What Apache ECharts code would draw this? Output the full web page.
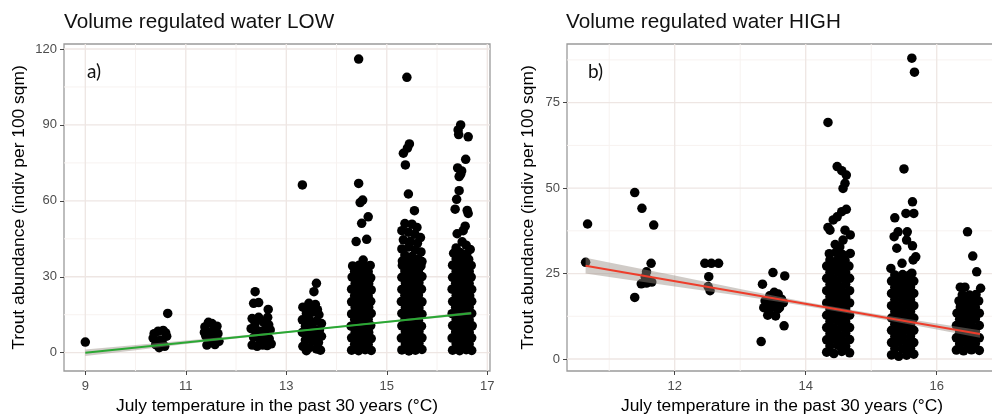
<!DOCTYPE html>
<html>
<head>
<meta charset="utf-8">
<script src="https://cdn.jsdelivr.net/npm/echarts@6/dist/echarts.min.js"></script>
<style>html,body{margin:0;padding:0;background:#fff;}#c{width:992px;height:414px;}</style>
</head>
<body>
<div id="c"></div>
<script>
// ---------- Panel a) : Volume regulated water LOW ----------
const lowXTicks = [9, 11, 13, 15, 17];
const lowXMinor = [10, 12, 14, 16];
const lowYTicks = [0, 30, 60, 90, 120];
const lowYMinor = [15, 45, 75, 105];

const lowT9 = [[9.00, 4.2]];
const lowT105 = [[10.35,5.8],[10.45,8.5],[10.55,8.8],[10.62,6.5],[10.40,3.2],[10.50,5.0],[10.58,2.5],[10.47,2.0],[10.64,15.5],[10.37,7.5],[10.53,4.0],[10.60,7.8]];
const lowT115 = [[11.38,10.2],[11.45,12.0],[11.52,11.5],[11.60,9.5],[11.40,6.5],[11.48,4.0],[11.56,6.0],[11.64,7.5],[11.66,4.5],[11.42,3.0],[11.58,3.2],[11.50,8.2],[11.37,8.0],[11.62,10.5],[11.44,5.5]];
const lowT125 = [[12.38,24.1],[12.35,19.5],[12.45,19.8],[12.64,17.1],[12.32,13.5],[12.45,14.0],[12.55,12.0],[12.65,11.0],[12.30,9.5],[12.40,9.0],[12.50,8.5],[12.60,9.5],[12.68,9.0],[12.35,6.0],[12.47,5.5],[12.57,6.0],[12.66,5.5],[12.32,3.0],[12.42,2.5],[12.53,3.0],[12.62,2.8],[12.70,3.5],[12.38,11.5],[12.63,14.0]];
const lowT135 = [[13.32,66.3],[13.60,27.4],[13.55,24.1],[13.33,18.0],[13.45,19.5],[13.58,19.0],[13.40,15.5],[13.52,16.0],[13.65,15.0],[13.32,13.0],[13.46,13.0],[13.60,12.5],[13.70,11.5],[13.38,10.5],[13.52,10.0],[13.66,9.0],[13.32,8.0],[13.45,7.5],[13.58,7.0],[13.70,6.5],[13.38,5.0],[13.52,4.5],[13.64,4.0],[13.33,2.5],[13.46,2.0],[13.60,1.5],[13.68,1.0],[13.40,0.8],[13.48,17.5],[13.62,17.0]];
const lowT145 = [[14.44,116.0],[14.44,66.9],[14.47,59.3],[14.52,60.3],[14.63,53.7],[14.50,51.1],[14.60,44.8],[14.39,43.9],[14.53,36.6],
 [14.30,1.0],[14.44,0.8],[14.57,1.2],[14.69,0.9],
 [14.36,3.3],[14.50,3.5],[14.63,3.2],
 [14.30,5.9],[14.43,5.7],[14.57,6.0],[14.69,5.6],
 [14.37,8.1],[14.51,8.4],[14.64,8.0],
 [14.29,10.5],[14.44,10.8],[14.56,10.4],[14.68,10.7],
 [14.36,13.1],[14.50,12.9],[14.63,13.2],
 [14.30,15.3],[14.43,15.6],[14.57,15.2],[14.69,15.5],
 [14.37,17.9],[14.50,17.6],[14.64,18.0],
 [14.30,20.1],[14.44,20.4],[14.57,20.0],[14.68,20.3],
 [14.36,22.5],[14.51,22.8],[14.63,22.4],
 [14.30,25.1],[14.43,24.9],[14.57,25.2],[14.69,24.8],
 [14.37,27.3],[14.50,27.6],[14.64,27.2],
 [14.31,29.9],[14.44,29.7],[14.57,30.0],[14.68,29.6],
 [14.36,32.1],[14.50,32.4],[14.63,32.0],
 [14.32,34.3],[14.45,34.6],[14.58,34.2],[14.67,34.5]];
const lowT155 = [[15.40,108.8],[15.45,82.5],[15.41,80.8],[15.33,78.8],[15.37,74.2],[15.43,62.7],[15.55,56.1],
 [15.36,51.0],[15.50,50.8],[15.60,49.5],[15.30,48.2],[15.43,47.6],[15.56,46.8],[15.67,45.5],[15.33,44.6],[15.47,44.0],[15.61,43.2],[15.30,41.0],[15.44,41.8],[15.57,40.6],[15.68,39.8],[15.36,38.6],[15.50,38.0],[15.63,37.0],[15.31,36.2],[15.45,35.8],[15.58,35.4],[15.70,36.0],
 [15.30,1.1],[15.44,0.7],[15.57,1.0],[15.70,1.3],
 [15.37,3.4],[15.51,3.2],[15.64,3.6],
 [15.29,5.8],[15.44,6.0],[15.57,5.6],[15.70,5.9],
 [15.37,8.3],[15.50,8.0],[15.64,8.4],
 [15.30,10.6],[15.43,10.4],[15.57,10.8],[15.69,10.5],
 [15.36,13.0],[15.51,13.2],[15.63,12.8],
 [15.30,15.5],[15.44,15.3],[15.57,15.6],[15.70,15.2],
 [15.37,17.8],[15.50,18.0],[15.64,17.7],
 [15.29,20.2],[15.44,20.0],[15.58,20.4],[15.70,20.1],
 [15.36,22.7],[15.51,22.5],[15.63,22.8],
 [15.30,25.0],[15.43,25.2],[15.57,24.9],[15.69,25.1],
 [15.37,27.5],[15.50,27.3],[15.64,27.6],
 [15.30,29.8],[15.44,30.0],[15.57,29.7],[15.70,30.1],
 [15.36,32.3],[15.51,32.1],[15.63,32.4],
 [15.31,34.5],[15.44,34.2],[15.58,34.6],[15.68,34.3]];
const lowT165 = [[16.47,90.0],[16.42,88.0],[16.43,86.2],[16.62,85.3],[16.57,76.4],[16.41,73.0],[16.49,71.8],[16.47,70.5],[16.44,69.6],[16.44,64.0],[16.39,60.6],[16.36,56.7],[16.60,56.2],[16.62,55.0],[16.56,50.0],[16.52,48.2],[16.40,47.0],[16.50,43.8],[16.38,41.4],[16.58,42.5],[16.66,40.8],
 [16.31,1.0],[16.45,0.8],[16.58,1.2],[16.69,0.9],
 [16.38,3.5],[16.51,3.2],[16.64,3.4],
 [16.30,5.8],[16.45,6.0],[16.58,5.7],[16.69,5.9],
 [16.37,8.2],[16.51,8.4],[16.64,8.1],
 [16.31,10.7],[16.44,10.5],[16.58,10.8],[16.70,10.6],
 [16.38,13.0],[16.52,13.2],[16.64,12.9],
 [16.30,15.4],[16.45,15.6],[16.58,15.3],[16.69,15.5],
 [16.37,17.9],[16.51,17.7],[16.64,18.0],
 [16.31,20.2],[16.45,20.4],[16.57,20.1],[16.69,20.3],
 [16.38,22.6],[16.51,22.8],[16.65,22.5],
 [16.30,25.1],[16.44,24.9],[16.58,25.2],[16.69,25.0],
 [16.37,27.4],[16.52,27.6],[16.64,27.3],
 [16.31,29.8],[16.45,30.0],[16.58,29.7],[16.68,29.9],
 [16.38,32.2],[16.51,32.4],[16.64,32.1],
 [16.31,34.6],[16.45,34.4],[16.58,34.7],[16.68,34.5],
 [16.38,37.0],[16.51,37.2],[16.63,36.9],
 [16.33,39.3],[16.46,39.6],[16.59,39.0]];
const lowFit = [[9.00, 0.0], [16.68, 15.6]];
const lowRibX  = [9.0, 10.0, 11.0, 12.0, 13.0, 14.0, 15.0, 16.0, 16.68];
const lowRibLo = [-1.3, 1.0, 3.4, 5.6, 7.8, 9.85, 11.8, 13.75, 15.05];
const lowRibHi = [1.3, 3.0, 4.8, 6.6, 8.5, 10.45, 12.5, 14.65, 16.15];

// ---------- Panel b) : Volume regulated water HIGH ----------
const highXTicks = [12, 14, 16];
const highXMinor = [11, 13, 15];
const highYTicks = [0, 25, 50, 75];
const highYMinor = [12.5, 37.5, 62.5, 87.5];

const highT105 = [[10.67,39.5],[10.64,28.3]];
const highT115 = [[11.39,48.7],[11.50,44.1],[11.68,39.2],[11.64,28.0],[11.57,25.5],[11.49,22.0],[11.57,22.2],[11.65,22.5],[11.60,23.1],[11.39,18.0],[11.55,24.0]];
const highT125 = [[12.46,28.0],[12.56,28.0],[12.67,28.0],[12.52,24.1],[12.51,21.2],[12.54,20.0]];
const highT135 = [[13.34,21.9],[13.50,25.3],[13.68,24.3],[13.32,5.1],[13.67,9.7],[13.54,12.6],[13.42,12.8],[13.38,17.0],[13.45,18.5],[13.52,19.5],[13.58,19.0],[13.63,17.5],[13.55,16.0],[13.47,15.5],[13.36,15.0],[13.60,15.0],[13.50,17.5],[13.66,16.5],[13.44,14.0],[13.57,14.5]];
const highT145 = [[14.34,69.2],[14.48,56.3],[14.55,55.1],[14.62,53.8],[14.60,51.4],[14.57,49.9],[14.62,43.8],[14.55,43.1],[14.48,41.6],[14.42,40.7],[14.34,38.5],[14.37,37.7],[14.60,37.7],[14.68,36.3],[14.57,34.8],[14.68,30.9],[14.45,33.5],[14.52,32.8],
 [14.32,2.0],[14.43,1.6],[14.55,2.2],[14.67,1.8],
 [14.37,3.8],[14.49,4.0],[14.61,3.7],
 [14.32,5.6],[14.43,5.8],[14.55,5.5],[14.67,5.7],
 [14.37,7.4],[14.49,7.3],[14.61,7.5],
 [14.32,9.2],[14.43,9.1],[14.55,9.3],[14.67,9.2],
 [14.37,11.0],[14.49,11.1],[14.61,10.9],
 [14.32,12.8],[14.43,12.9],[14.55,12.7],[14.67,12.8],
 [14.37,14.6],[14.49,14.5],[14.61,14.7],
 [14.32,16.4],[14.43,16.3],[14.55,16.5],[14.67,16.4],
 [14.37,18.2],[14.49,18.3],[14.61,18.1],
 [14.32,20.0],[14.43,20.1],[14.55,19.9],[14.67,20.0],
 [14.37,21.8],[14.49,21.7],[14.61,21.9],
 [14.32,23.6],[14.43,23.5],[14.55,23.7],[14.67,23.6],
 [14.37,25.4],[14.49,25.5],[14.61,25.3],
 [14.32,27.2],[14.43,27.1],[14.55,27.3],[14.66,27.2],
 [14.37,29.0],[14.49,29.1],[14.60,28.9],
 [14.36,30.8],[14.46,31.2],[14.56,30.6]];
const highT155 = [[15.62,88.0],[15.66,83.9],[15.50,55.6],[15.63,46.0],[15.53,42.6],[15.65,42.6],[15.36,41.3],[15.41,37.2],[15.55,37.2],[15.35,35.8],[15.54,34.8],[15.63,33.1],[15.39,32.4],[15.68,29.9],[15.64,29.0],[15.30,26.5],[15.62,25.1],[15.47,28.0],
 [15.31,1.2],[15.42,0.8],[15.54,1.1],[15.65,1.4],
 [15.36,3.0],[15.48,2.9],[15.60,3.1],
 [15.31,4.8],[15.42,4.9],[15.54,4.7],[15.65,4.8],
 [15.36,6.6],[15.48,6.5],[15.60,6.7],
 [15.31,8.4],[15.42,8.3],[15.54,8.5],[15.65,8.4],
 [15.36,10.2],[15.48,10.3],[15.60,10.1],
 [15.31,12.0],[15.42,12.1],[15.54,11.9],[15.65,12.0],
 [15.36,13.8],[15.48,13.7],[15.60,13.9],
 [15.31,15.6],[15.42,15.5],[15.54,15.7],[15.65,15.6],
 [15.36,17.4],[15.48,17.5],[15.60,17.3],
 [15.31,19.2],[15.42,19.3],[15.54,19.1],[15.65,19.2],
 [15.36,21.0],[15.48,20.9],[15.60,21.1],
 [15.31,22.8],[15.42,22.7],[15.54,22.9],[15.65,22.8],
 [15.36,24.6],[15.48,24.7],[15.58,24.5]];
const highT165 = [[16.47,37.2],[16.55,30.1],[16.61,25.5],[16.67,20.7],[16.36,21.0],[16.43,21.0],
 [16.30,2.6],[16.41,2.4],[16.53,2.7],[16.65,2.5],
 [16.35,4.4],[16.47,4.3],[16.59,4.5],
 [16.30,6.2],[16.41,6.3],[16.53,6.1],[16.65,6.2],
 [16.35,8.0],[16.47,7.9],[16.59,8.1],
 [16.30,9.8],[16.41,9.9],[16.53,9.7],[16.65,9.8],
 [16.35,11.6],[16.47,11.5],[16.59,11.7],
 [16.31,13.4],[16.41,13.3],[16.53,13.5],[16.65,13.4],
 [16.36,15.2],[16.47,15.3],[16.59,15.1],
 [16.34,17.0],[16.44,16.9],[16.55,17.1],[16.64,17.0],
 [16.39,18.8],[16.50,18.7],[16.60,18.9]];
const highFit = [[10.64, 27.3], [16.66, 7.3]];
const highRibX  = [10.64, 11.0, 12.0, 13.0, 14.0, 15.0, 16.0, 16.66];
const highRibLo = [25.0, 24.0, 21.2, 18.5, 15.5, 12.2, 8.6, 6.2];
const highRibHi = [29.6, 28.2, 24.4, 20.5, 16.7, 13.4, 10.4, 8.4];

// ---------- helpers ----------
const FONT = 'Liberation Sans';
const MAJOR = '#eee6e3', MINOR = '#f7f2f0';

function gridLineSeries(idx, majX, minX, majY, minY) {
  return {
    type: 'custom', xAxisIndex: idx, yAxisIndex: idx, z: 1, silent: true,
    data: [[majX[0], majY[0]]],
    renderItem: function (params, api) {
      const cs = params.coordSys; const ch = [];
      const vline = (v, c, w) => { const p = api.coord([v, majY[0]]);
        ch.push({type: 'line', shape: {x1: p[0], y1: cs.y, x2: p[0], y2: cs.y + cs.height}, style: {stroke: c, lineWidth: w}}); };
      const hline = (v, c, w) => { const p = api.coord([majX[0], v]);
        ch.push({type: 'line', shape: {x1: cs.x, y1: p[1], x2: cs.x + cs.width, y2: p[1]}, style: {stroke: c, lineWidth: w}}); };
      minX.forEach(v => vline(v, MINOR, 1)); minY.forEach(v => hline(v, MINOR, 1));
      majX.forEach(v => vline(v, MAJOR, 1.3)); majY.forEach(v => hline(v, MAJOR, 1.3));
      return {type: 'group', children: ch};
    }
  };
}
function ribbonSeries(idx, xs, lo, hi) {
  return {
    type: 'custom', xAxisIndex: idx, yAxisIndex: idx, z: 3, silent: true,
    data: [[xs[0], lo[0]]],
    renderItem: function (params, api) {
      const pts = [];
      xs.forEach((x, i) => pts.push(api.coord([x, hi[i]])));
      for (let i = xs.length - 1; i >= 0; i--) pts.push(api.coord([xs[i], lo[i]]));
      return {type: 'polygon', shape: {points: pts}, style: {fill: 'rgba(150,140,130,0.45)'}};
    }
  };
}
function pts(idx, data) {
  return {type: 'scatter', xAxisIndex: idx, yAxisIndex: idx, z: 2, symbolSize: 9.5, silent: true,
          itemStyle: {color: '#000', opacity: 1}, data: data};
}
function fit(idx, data, color) {
  return {type: 'line', xAxisIndex: idx, yAxisIndex: idx, z: 4, silent: true, showSymbol: false,
          lineStyle: {color: color, width: 2}, data: data};
}
function xAx(idx, min, max, ticks) {
  return {gridIndex: idx, type: 'value', min: min, max: max,
    axisLine: {show: false, onZero: false}, splitLine: {show: false}, minorTick: {show: false},
    axisTick: {show: true, customValues: ticks, length: 4, lineStyle: {color: '#444', width: 1}},
    axisLabel: {customValues: ticks, color: '#4d4d4d', fontSize: 13, fontFamily: FONT, margin: 9},
    name: 'July temperature in the past 30 years (°C)', nameLocation: 'middle', nameGap: 27,
    nameTextStyle: {color: '#000', fontSize: 17.4, fontFamily: FONT}};
}
function yAx(idx, min, max, ticks, gap) {
  return {gridIndex: idx, type: 'value', min: min, max: max,
    axisLine: {show: false, onZero: false}, splitLine: {show: false}, minorTick: {show: false},
    axisTick: {show: true, customValues: ticks, length: 4, lineStyle: {color: '#444', width: 1}},
    axisLabel: {customValues: ticks, color: '#4d4d4d', fontSize: 13, fontFamily: FONT, margin: 7},
    name: 'Trout abundance (indiv per 100 sqm)', nameLocation: 'middle', nameGap: gap,
    nameTextStyle: {color: '#000', fontSize: 17.4, fontFamily: FONT}};
}

const chart = echarts.init(document.getElementById('c'), null, {renderer: 'canvas'});
chart.setOption({
  animation: false,
  backgroundColor: '#fff',
  title: [
    {text: 'Volume regulated water LOW', left: 64, top: 12, padding: 0, textStyle: {fontSize: 20.7, fontWeight: 'normal', color: '#111', fontFamily: FONT}},
    {text: 'Volume regulated water HIGH', left: 566, top: 12, padding: 0, textStyle: {fontSize: 20.7, fontWeight: 'normal', color: '#111', fontFamily: FONT}},
    {text: 'a)', left: 87, top: 62, padding: 0, textStyle: {fontSize: 19, fontWeight: 'normal', color: '#111', fontFamily: 'Lato'}},
    {text: 'b)', left: 588, top: 62, padding: 0, textStyle: {fontSize: 19, fontWeight: 'normal', color: '#111', fontFamily: 'Lato'}}
  ],
  grid: [
    {left: 64, top: 44, width: 426, height: 327, show: true, borderColor: '#9a9a9a', borderWidth: 1.3, backgroundColor: '#fff', outerBoundsMode: 'none', containLabel: false},
    {left: 567, top: 44, width: 430, height: 327, show: true, borderColor: '#9a9a9a', borderWidth: 1.3, backgroundColor: '#fff', outerBoundsMode: 'none', containLabel: false}
  ],
  xAxis: [xAx(0, 8.576, 17.054, lowXTicks), xAx(1, 10.356, 16.92, highXTicks)],
  yAxis: [yAx(0, -7.23, 121.97, lowYTicks, 36), yAx(1, -3.51, 92.16, highYTicks, 30)],
  series: [
    gridLineSeries(0, lowXTicks, lowXMinor, lowYTicks, lowYMinor),
    gridLineSeries(1, highXTicks, highXMinor, highYTicks, highYMinor),
    pts(0, lowT9), pts(0, lowT105), pts(0, lowT115), pts(0, lowT125), pts(0, lowT135), pts(0, lowT145), pts(0, lowT155), pts(0, lowT165),
    pts(1, highT105), pts(1, highT115), pts(1, highT125), pts(1, highT135), pts(1, highT145), pts(1, highT155), pts(1, highT165),
    ribbonSeries(0, lowRibX, lowRibLo, lowRibHi),
    ribbonSeries(1, highRibX, highRibLo, highRibHi),
    fit(0, lowFit, '#2aa834'),
    fit(1, highFit, '#ee3d2b')
  ]
});
</script>
</body>
</html>
